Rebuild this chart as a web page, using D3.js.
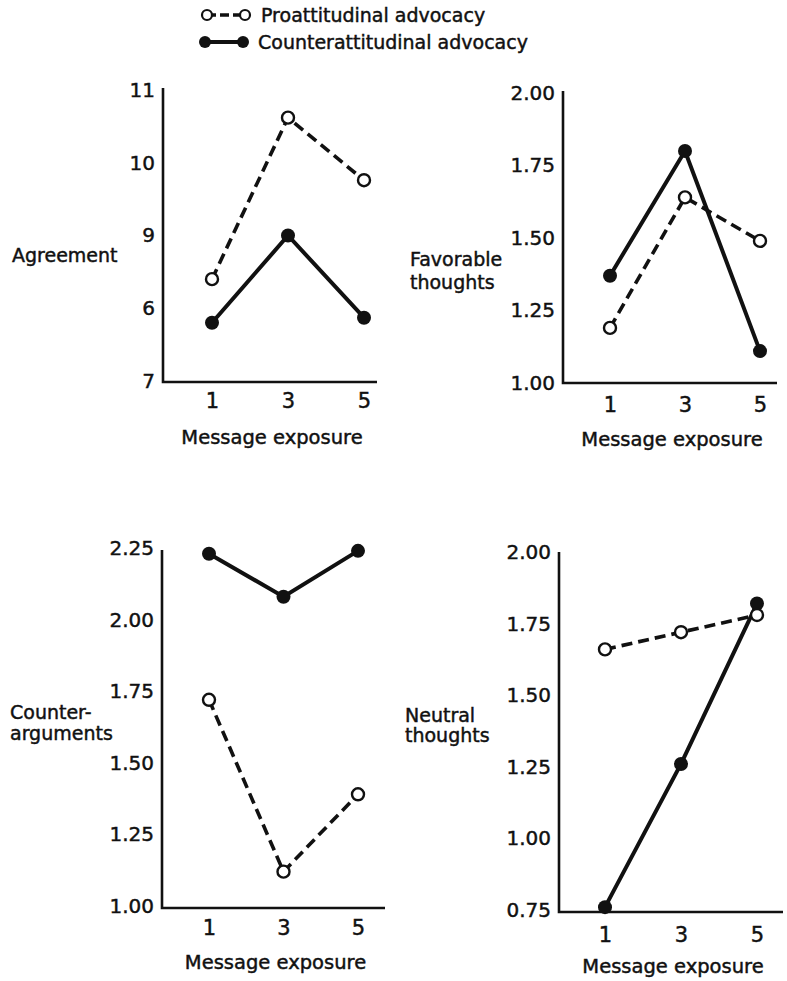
<!DOCTYPE html>
<html>
<head>
<meta charset="utf-8">
<script src="https://cdn.jsdelivr.net/npm/d3@7"></script>
<style>
  body { margin: 0; background: #fff; }
  svg text { font-family: "DejaVu Sans", sans-serif; fill: #111; stroke: #111; stroke-width: 0.45px; }
</style>
</head>
<body>
<svg id="chart" width="787" height="981"></svg>
<script>
// message exposure levels
var exposures = [1, 3, 5];

// series values
var agreementPro = [8.4, 10.62, 9.76];
var agreementCounter = [7.8, 9.0, 7.87];
var favorablePro = [1.19, 1.64, 1.49];
var favorableCounter = [1.37, 1.80, 1.11];
var counterargPro = [1.72, 1.12, 1.39];
var counterargCounter = [2.23, 2.08, 2.24];
var neutralPro = [1.66, 1.72, 1.78];
var neutralCounter = [0.76, 1.26, 1.82];

// tick values and labels (the "6" on the agreement axis is printed that way)
var agreementTicks = [7, 8, 9, 10, 11];
var agreementTickLabels = ['7', '6', '9', '10', '11'];
var favorableTicks = [1.00, 1.25, 1.50, 1.75, 2.00];
var counterargTicks = [1.00, 1.25, 1.50, 1.75, 2.00, 2.25];
var neutralTicks = [0.75, 1.00, 1.25, 1.50, 1.75, 2.00];

var legendLabels = ['Proattitudinal advocacy', 'Counterattitudinal advocacy'];

var svg = d3.select('#chart');
var fmt2 = d3.format('.2f');

var panels = [
    {
        title: ['Agreement'], titleX: 12, titleY: [262],
        pro: agreementPro, counter: agreementCounter,
        ticks: agreementTicks, tickFormat: function (d, i) { return agreementTickLabels[i]; },
        left: 163, right: 377, top: 88, bottom: 382,
        yDomain: [7, 11], yRange: [381, 90],
        xRange: [212, 364], xTickY: 398, xLabelY: 444
    },
    {
        title: ['Favorable', 'thoughts'], titleX: 410, titleY: [266, 289],
        pro: favorablePro, counter: favorableCounter,
        ticks: favorableTicks, tickFormat: fmt2,
        left: 563, right: 777, top: 91, bottom: 383,
        yDomain: [1, 2], yRange: [383, 93],
        xRange: [610, 760], xTickY: 402, xLabelY: 446
    },
    {
        title: ['Counter-', 'arguments'], titleX: 10, titleY: [719, 740],
        pro: counterargPro, counter: counterargCounter,
        ticks: counterargTicks, tickFormat: fmt2,
        left: 162, right: 385, top: 550, bottom: 908,
        yDomain: [1, 2.25], yRange: [906, 548],
        xRange: [209, 358], xTickY: 925, xLabelY: 969
    },
    {
        title: ['Neutral', 'thoughts'], titleX: 405, titleY: [722, 742],
        pro: neutralPro, counter: neutralCounter,
        ticks: neutralTicks, tickFormat: fmt2,
        left: 559, right: 783, top: 552, bottom: 912,
        yDomain: [0.75, 2.0], yRange: [910, 552],
        xRange: [605, 757], xTickY: 932, xLabelY: 973
    }
];

panels.forEach(function (p) {
    var g = svg.append('g');

    var x = d3.scaleLinear().domain([1, 5]).range(p.xRange);
    var y = d3.scaleLinear().domain(p.yDomain).range(p.yRange);

    // frame: y axis line and baseline
    g.append('path')
        .attr('d', 'M' + p.left + ',' + p.top + 'L' + p.left + ',' + p.bottom + 'L' + p.right + ',' + p.bottom)
        .attr('fill', 'none')
        .attr('stroke', '#111')
        .attr('stroke-width', 2.6);

    // y ticks
    var yAxis = g.append('g')
        .attr('transform', 'translate(' + (p.left - 5) + ',0)')
        .call(d3.axisLeft(y).tickValues(p.ticks).tickFormat(p.tickFormat).tickSize(0));
    yAxis.select('.domain').remove();
    yAxis.selectAll('text')
        .style('font-family', '"DejaVu Sans", sans-serif')
        .style('font-size', '20px')
        .attr('fill', '#111');

    // x ticks
    var xAxis = g.append('g')
        .attr('transform', 'translate(0,' + (p.xTickY - 8) + ')')
        .call(d3.axisBottom(x).tickValues(exposures).tickFormat(d3.format('d')).tickSize(0));
    xAxis.select('.domain').remove();
    xAxis.selectAll('text')
        .style('font-family', '"DejaVu Sans", sans-serif')
        .style('font-size', '21px')
        .attr('fill', '#111');

    g.append('text')
        .attr('x', (p.left + p.right) / 2 + 2)
        .attr('y', p.xLabelY)
        .attr('text-anchor', 'middle')
        .style('font-size', '19.5px')
        .text('Message exposure');

    p.title.forEach(function (t, i) {
        g.append('text')
            .attr('x', p.titleX)
            .attr('y', p.titleY[i])
            .style('font-size', '19px')
            .text(t);
    });

    var line = d3.line()
        .x(function (d, i) { return x(exposures[i]); })
        .y(function (d) { return y(d); });

    g.append('path')
        .datum(p.counter)
        .attr('d', line)
        .attr('fill', 'none')
        .attr('stroke', '#111')
        .attr('stroke-width', 4);

    g.append('path')
        .datum(p.pro)
        .attr('d', line)
        .attr('fill', 'none')
        .attr('stroke', '#111')
        .attr('stroke-width', 3.6)
        .attr('stroke-dasharray', '11,6');

    g.selectAll('.dot-counter')
        .data(p.counter)
        .enter()
        .append('circle')
        .attr('class', 'dot-counter')
        .attr('cx', function (d, i) { return x(exposures[i]); })
        .attr('cy', function (d) { return y(d); })
        .attr('r', 7)
        .attr('fill', '#111');

    g.selectAll('.dot-pro')
        .data(p.pro)
        .enter()
        .append('circle')
        .attr('class', 'dot-pro')
        .attr('cx', function (d, i) { return x(exposures[i]); })
        .attr('cy', function (d) { return y(d); })
        .attr('r', 6)
        .attr('fill', '#fff')
        .attr('stroke', '#111')
        .attr('stroke-width', 2.4);
});

// legend
var legend = svg.append('g');
legend.append('line')
    .attr('x1', 207).attr('x2', 245).attr('y1', 15).attr('y2', 15)
    .attr('stroke', '#111').attr('stroke-width', 3.4)
    .attr('stroke-dasharray', '9,4');
[207, 245].forEach(function (cx) {
    legend.append('circle').attr('cx', cx).attr('cy', 15).attr('r', 5)
        .attr('fill', '#fff').attr('stroke', '#111').attr('stroke-width', 2.2);
});
legend.append('line')
    .attr('x1', 205).attr('x2', 243).attr('y1', 42).attr('y2', 42)
    .attr('stroke', '#111').attr('stroke-width', 4);
[205, 243].forEach(function (cx) {
    legend.append('circle').attr('cx', cx).attr('cy', 42).attr('r', 6)
        .attr('fill', '#111');
});
legend.selectAll('.legend-text')
    .data(legendLabels)
    .enter()
    .append('text')
    .attr('class', 'legend-text')
    .attr('x', function (d, i) { return i === 0 ? 261 : 258; })
    .attr('y', function (d, i) { return i === 0 ? 22 : 49; })
    .style('font-size', '19px')
    .text(function (d) { return d; });
</script>
</body>
</html>
